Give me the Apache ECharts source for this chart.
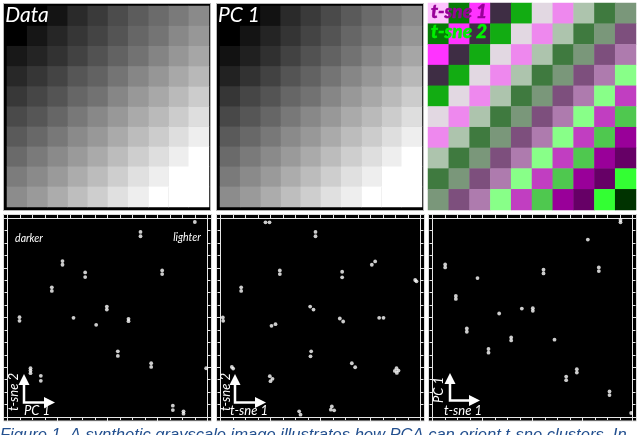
<!DOCTYPE html>
<html><head><meta charset="utf-8">
<style>html,body{margin:0;padding:0;background:#fff;overflow:hidden}#c{width:640px;height:435px}</style>
<script src="https://cdn.jsdelivr.net/npm/echarts@6/dist/echarts.min.js"></script>
</head><body><div id="c"></div>
<script>
const dataGrey = [
 [0,0,20,42,58,76,92,107,122,138],
 [0,22,38,54,68,84,102,116,136,151],
 [24,36,50,66,82,98,114,132,150,166],
 [40,54,68,86,98,116,134,150,168,184],
 [56,70,84,102,114,134,152,168,186,204],
 [74,86,102,120,136,152,170,186,204,222],
 [90,104,120,138,152,170,188,204,222,238],
 [106,122,138,154,170,188,206,222,238,255],
 [124,138,154,172,188,206,224,238,255,255],
 [140,154,172,190,206,224,238,255,255,255]
];
const pc1Grey = [
 [0,0,18,42,58,74,90,106,122,138],
 [0,20,36,52,68,84,102,116,134,150],
 [18,32,48,66,82,98,114,132,150,166],
 [34,50,66,84,98,116,134,150,168,184],
 [54,70,84,102,114,134,152,168,186,204],
 [72,86,102,120,136,152,170,186,204,222],
 [90,104,120,138,152,170,188,204,222,238],
 [106,122,138,154,170,188,206,222,238,255],
 [122,138,154,172,188,206,224,238,255,255],
 [140,154,172,190,206,224,238,255,255,255]
];
const tsneClass = [
 [0,1,2,3,4,5,6,7,8,9],
 [1,2,3,4,5,6,7,8,9,10],
 [2,3,4,5,6,7,8,9,10,11],
 [3,4,5,6,7,8,9,10,11,12],
 [4,5,6,7,8,9,10,11,12,13],
 [5,6,7,8,9,10,11,12,13,14],
 [6,7,8,9,10,11,12,13,14,15],
 [7,8,9,10,11,12,13,14,15,16],
 [8,9,10,11,12,13,14,15,16,17],
 [9,10,11,12,13,14,15,16,17,18]
];
const tsneColors = ['#fdc3fd','#067c06','#ff33ff','#3e2d44','#12ac12','#e2d8e2','#ee88ee','#adc4ad','#3f7a3f','#7a977a','#7d4f7d','#ae7bae','#88ff88','#c13ec1','#4fc84f','#990099','#660066','#33ff33','#003300'];

const pointsDataTsne = [[562,588],[399,558],[399,545],[165,470],[165,459],[233,436],[233,422],[464,442],[464,431],[133,391],[133,380],[298,333],[298,324],[36,301],[36,290],[198,299],[266,278],[363,296],[363,289],[331,198],[331,184],[431,162],[431,151],[69,147],[69,140],[69,132],[100,124],[100,109],[496,34],[496,21],[528,17],[528,10],[596,147]];
const pointsPcTsne = [[135,587],[147,587],[285,558],[285,545],[178,442],[178,431],[365,438],[365,421],[454,459],[464,469],[62,391],[62,380],[584,413],[588,409],[269,333],[279,324],[7,300],[8,290],[153,275],[165,280],[358,297],[368,288],[476,299],[489,299],[272,198],[270,183],[394,162],[404,150],[34,151],[38,146],[148,123],[156,115],[150,108],[528,147],[523,139],[534,140],[529,133],[334,32],[331,22],[341,20],[236,17],[240,7]];
const pointsTsnePc = [[564,594],[564,587],[466,535],[38,460],[38,451],[333,444],[333,433],[499,451],[499,440],[135,419],[70,365],[70,356],[268,327],[301,328],[301,320],[200,312],[103,267],[103,257],[236,240],[236,231],[366,233],[168,205],[168,194],[433,144],[433,134],[401,122],[401,111],[531,77],[531,66],[596,12]];

const cellLabels = ['0','1','2','3','4','5','6','7','8','9'];
const cells = m => m.flatMap((row,r)=>row.map((v,c)=>[c,r,v]));

const heatBoxes = [
 {left:7,top:6,width:202,height:201},
 {left:220,top:6,width:202,height:201},
 {left:428,top:3,width:208,height:207}
];
const scatterBoxes = [
 {left:7.5,top:218,width:200,height:199},
 {left:220.5,top:218,width:200,height:199},
 {left:432.5,top:218,width:200,height:199}
];
const grid=[...heatBoxes,...scatterBoxes].map(b=>({...b,show:false,containLabel:false}));
const xAxis=[],yAxis=[],series=[];
[dataGrey,pc1Grey,tsneClass].forEach((m,i)=>{
  xAxis.push({type:'category',data:cellLabels,gridIndex:i,show:false});
  yAxis.push({type:'category',data:cellLabels,gridIndex:i,show:false,inverse:true});
  series.push({type:'heatmap',xAxisIndex:i,yAxisIndex:i,data:cells(m),itemStyle:{borderWidth:0},progressive:0,silent:true});
});
const lineCol='#e6e6e6';
const fAxis=(gi,pos)=>({type:'value',gridIndex:gi,position:pos,min:0,max:600,interval:150,
  axisLine:{show:true,onZero:false,lineStyle:{color:lineCol,width:1}},
  axisTick:{show:true,inside:false,length:4,lineStyle:{color:lineCol,width:1}},
  minorTick:{show:true,splitNumber:4,length:3,lineStyle:{color:lineCol,width:1}},
  axisLabel:{show:false},splitLine:{show:false},minorSplitLine:{show:false}});
const nHeat=3;
[pointsDataTsne,pointsPcTsne,pointsTsnePc].forEach((p,i)=>{
  const gi=nHeat+i;
  const xi=xAxis.length, yi=yAxis.length;
  xAxis.push(fAxis(gi,'bottom'),fAxis(gi,'top'));
  yAxis.push(fAxis(gi,'left'),fAxis(gi,'right'));
  series.push({type:'scatter',xAxisIndex:xi,yAxisIndex:yi,data:p,symbol:'circle',symbolSize:3.8,itemStyle:{color:'#ffffff'},silent:true,clip:false,z:5});
});

const bg=[];
[[3.5,3.5,207,207],[216.5,3.5,207,207]].forEach(r=>bg.push({type:'rect',z:-1,shape:{x:r[0],y:r[1],width:r[2],height:r[3]},style:{fill:'#000',stroke:'#b8b8b8',lineWidth:1}}));
[[3.5,214.5,208,206.5],[216.5,214.5,208,206.5],[428.5,214.5,208,206.5]].forEach(r=>bg.push({type:'rect',z:-1,shape:{x:r[0],y:r[1],width:r[2],height:r[3]},style:{fill:'#000',stroke:'#dcdcdc',lineWidth:1}}));

const arrows=[[24,55,402.5,374],[235,266,402.5,374],[450,480,400.5,373]];
const over=[];
arrows.forEach(([x,tip,y,top])=>{
  over.push({type:'polyline',z:50,shape:{points:[[x,top+10],[x,y],[tip-10,y]]},style:{stroke:'#fff',lineWidth:2.5,fill:null}});
  over.push({type:'polygon',z:50,shape:{points:[[x,top],[x-5.5,top+11],[x+5.5,top+11]]},style:{fill:'#fff'}});
  over.push({type:'polygon',z:50,shape:{points:[[tip,y],[tip-11,y-5.5],[tip-11,y+5.5]]},style:{fill:'#fff'}});
});
const txt=(text,x,y,size,color,extra={},rot=0)=>({type:'text',z:60,x,y,rotation:rot,style:{text,fill:color,font:`italic ${extra.weight||'normal'} ${size}px ${extra.family||'Lato'}`,align:'center',verticalAlign:'middle',stroke:extra.stroke||null,lineWidth:extra.lw||0}});
const R=Math.PI/2;
over.push(
 txt('Data',27,15,21,'#fff'),
 txt('PC 1',239,15,21,'#fff'),
 txt('t-sne 1',459,12,19,'#990099',{weight:'900',stroke:'#990099',lw:0.5}),
 txt('t-sne 2',459,32,19,'#00f000',{weight:'900',stroke:'#00f000',lw:0.5}),
 txt('darker',29,239,10.5,'#fff'),
 txt('lighter',187,238,10.5,'#fff'),
 txt('PC 1',37,411,13,'#fff'),
 txt('t-sne 2',14,392,13,'#fff',{},R),
 txt('t-sne 1',249,411,13,'#fff'),
 txt('t-sne 2',226,392,13,'#fff',{},R),
 txt('t-sne 1',463,411,13,'#fff'),
 txt('PC 1',439,390,13,'#fff',{},R),
 {type:'text',z:60,x:0,y:435,style:{text:'Figure 1. A synthetic grayscale image illustrates how PCA can orient t-sne clusters. In',fill:'#23508f',font:'italic 16.55px "Liberation Sans"',align:'left',verticalAlign:'middle'}}
);

const chart=echarts.init(document.getElementById('c'),null,{renderer:'canvas'});
chart.setOption({
  animation:false,backgroundColor:'#fff',
  grid,xAxis,yAxis,
  visualMap:[
   {type:'continuous',show:false,seriesIndex:[0,1],min:0,max:255,dimension:2,inRange:{color:['#000000','#ffffff']}},
   {type:'piecewise',show:false,seriesIndex:2,dimension:2,pieces:tsneColors.map((c,i)=>({value:i,color:c}))}
  ],
  graphic:{elements:[...bg,...over]},
  series
});
</script></body></html>
